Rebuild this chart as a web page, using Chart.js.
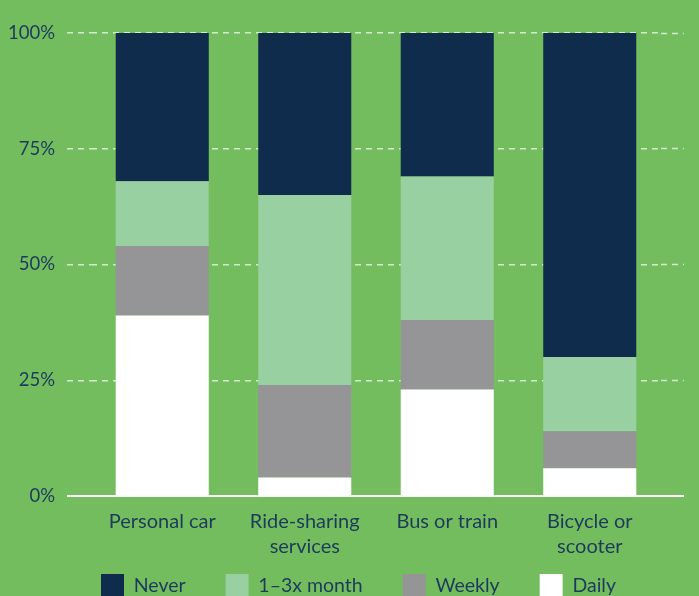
<!DOCTYPE html>
<html>
<head>
<meta charset="utf-8">
<script src="https://cdn.jsdelivr.net/npm/chart.js@4/dist/chart.umd.min.js"></script>
<style>
  html, body { margin: 0; padding: 0; overflow: hidden; background: #73bd5f; }
  #wrap { position: relative; width: 699px; height: 635px; }
</style>
</head>
<body>
<div id="wrap"><canvas id="c"></canvas></div>
<script>
// Modes of transport (multi-line labels where the text wraps)
const categories = [
  'Personal car',
  ['Ride-sharing', 'services'],
  'Bus or train',
  ['Bicycle or', 'scooter']
];

// Share of respondents (%) by frequency of use
const daily   = [39, 4, 23, 6];
const weekly  = [15, 20, 15, 8];
const monthly = [14, 41, 31, 16];
const never   = [32, 35, 31, 70];

const yTicks = [0, 25, 50, 75, 100];

const INK = '#1d3a5c';
const GRID = 'rgba(255,255,255,0.7)';

Chart.defaults.font.family = 'Lato, "Open Sans", sans-serif';
Chart.defaults.font.size = 19;
Chart.defaults.color = INK;

const isZero = (ctx) => ctx.tick && ctx.tick.value === 0;

// Pull the legend up so it sits closer to the category labels
// while keeping wide horizontal spacing between its items.
const legendLift = {
  id: 'legendLift',
  afterLayout(chart) {
    const lg = chart.legend;
    if (!lg) return;
    lg.top -= 28;
    lg.bottom -= 28;
    lg.left += 9;
    lg.right += 9;
  }
};

// Solid white baseline at 0%, running across the full width of the gridlines.
const baseline = {
  id: 'baseline',
  afterDatasetsDraw(chart) {
    const { ctx, scales } = chart;
    const y = Math.round(scales.y.getPixelForValue(0));
    const x1 = scales.y.right - scales.y.options.grid.tickLength;
    const x2 = scales.y2.left + scales.y2.options.grid.tickLength;
    ctx.save();
    ctx.strokeStyle = '#ffffff';
    ctx.lineWidth = 2;
    ctx.beginPath();
    ctx.moveTo(x1, y);
    ctx.lineTo(x2, y);
    ctx.stroke();
    ctx.restore();
  }
};

new Chart(document.getElementById('c'), {
  type: 'bar',
  data: {
    labels: categories,
    datasets: [
      { label: 'Daily',           data: daily,   backgroundColor: '#ffffff' },
      { label: 'Weekly',          data: weekly,  backgroundColor: '#959598' },
      { label: '1\u20133x month', data: monthly, backgroundColor: '#98d0a1' },
      { label: 'Never',           data: never,   backgroundColor: '#0f2c4d' }
    ]
  },
  plugins: [legendLift, baseline],
  options: {
    responsive: true,
    maintainAspectRatio: false,
    animation: false,
    layout: { padding: { top: 33, right: 0, left: 0, bottom: 0 } },
    datasets: {
      bar: { categoryPercentage: 1, barPercentage: 0.653, borderWidth: 0 }
    },
    plugins: {
      tooltip: { enabled: false },
      legend: {
        position: 'bottom',
        reverse: true,
        labels: {
          boxWidth: 23,
          boxHeight: 23,
          padding: 40,
          color: INK,
          font: { size: 19.5 }
        }
      }
    },
    scales: {
      x: {
        stacked: true,
        grid: { display: false },
        border: { display: false },
        ticks: {
          padding: 5,
          maxRotation: 0,
          autoSkip: false,
          color: INK,
          font: { size: 20, lineHeight: '25px' }
        },
        afterFit: (scale) => { scale.height = 66; }
      },
      y: {
        stacked: true,
        min: 0,
        max: 100,
        afterBuildTicks: (scale) => { scale.ticks = yTicks.map(v => ({ value: v })); },
        border: { display: false, dash: [6, 5] },
        grid: {
          color: (ctx) => isZero(ctx) ? 'rgba(0,0,0,0)' : GRID,
          lineWidth: 1.5,
          drawTicks: true,
          tickLength: 24,
          tickColor: GRID,
          tickWidth: (ctx) => isZero(ctx) ? 0 : 1.5,
          tickBorderDash: [6, 5]
        },
        ticks: {
          padding: 12,
          color: INK,
          font: { size: 18.5 },
          callback: (v) => v + '%'
        },
        afterFit: (scale) => { scale.width = 91; }
      },
      y2: {
        position: 'right',
        min: 0,
        max: 100,
        afterBuildTicks: (scale) => { scale.ticks = yTicks.map(v => ({ value: v })); },
        border: { display: false },
        grid: {
          drawOnChartArea: false,
          drawTicks: true,
          tickLength: 23,
          tickColor: GRID,
          tickWidth: (ctx) => isZero(ctx) ? 0 : 1.5,
          tickBorderDash: [6, 5]
        },
        ticks: { display: false },
        afterFit: (scale) => { scale.width = 38; }
      }
    }
  }
});
</script>
</body>
</html>
